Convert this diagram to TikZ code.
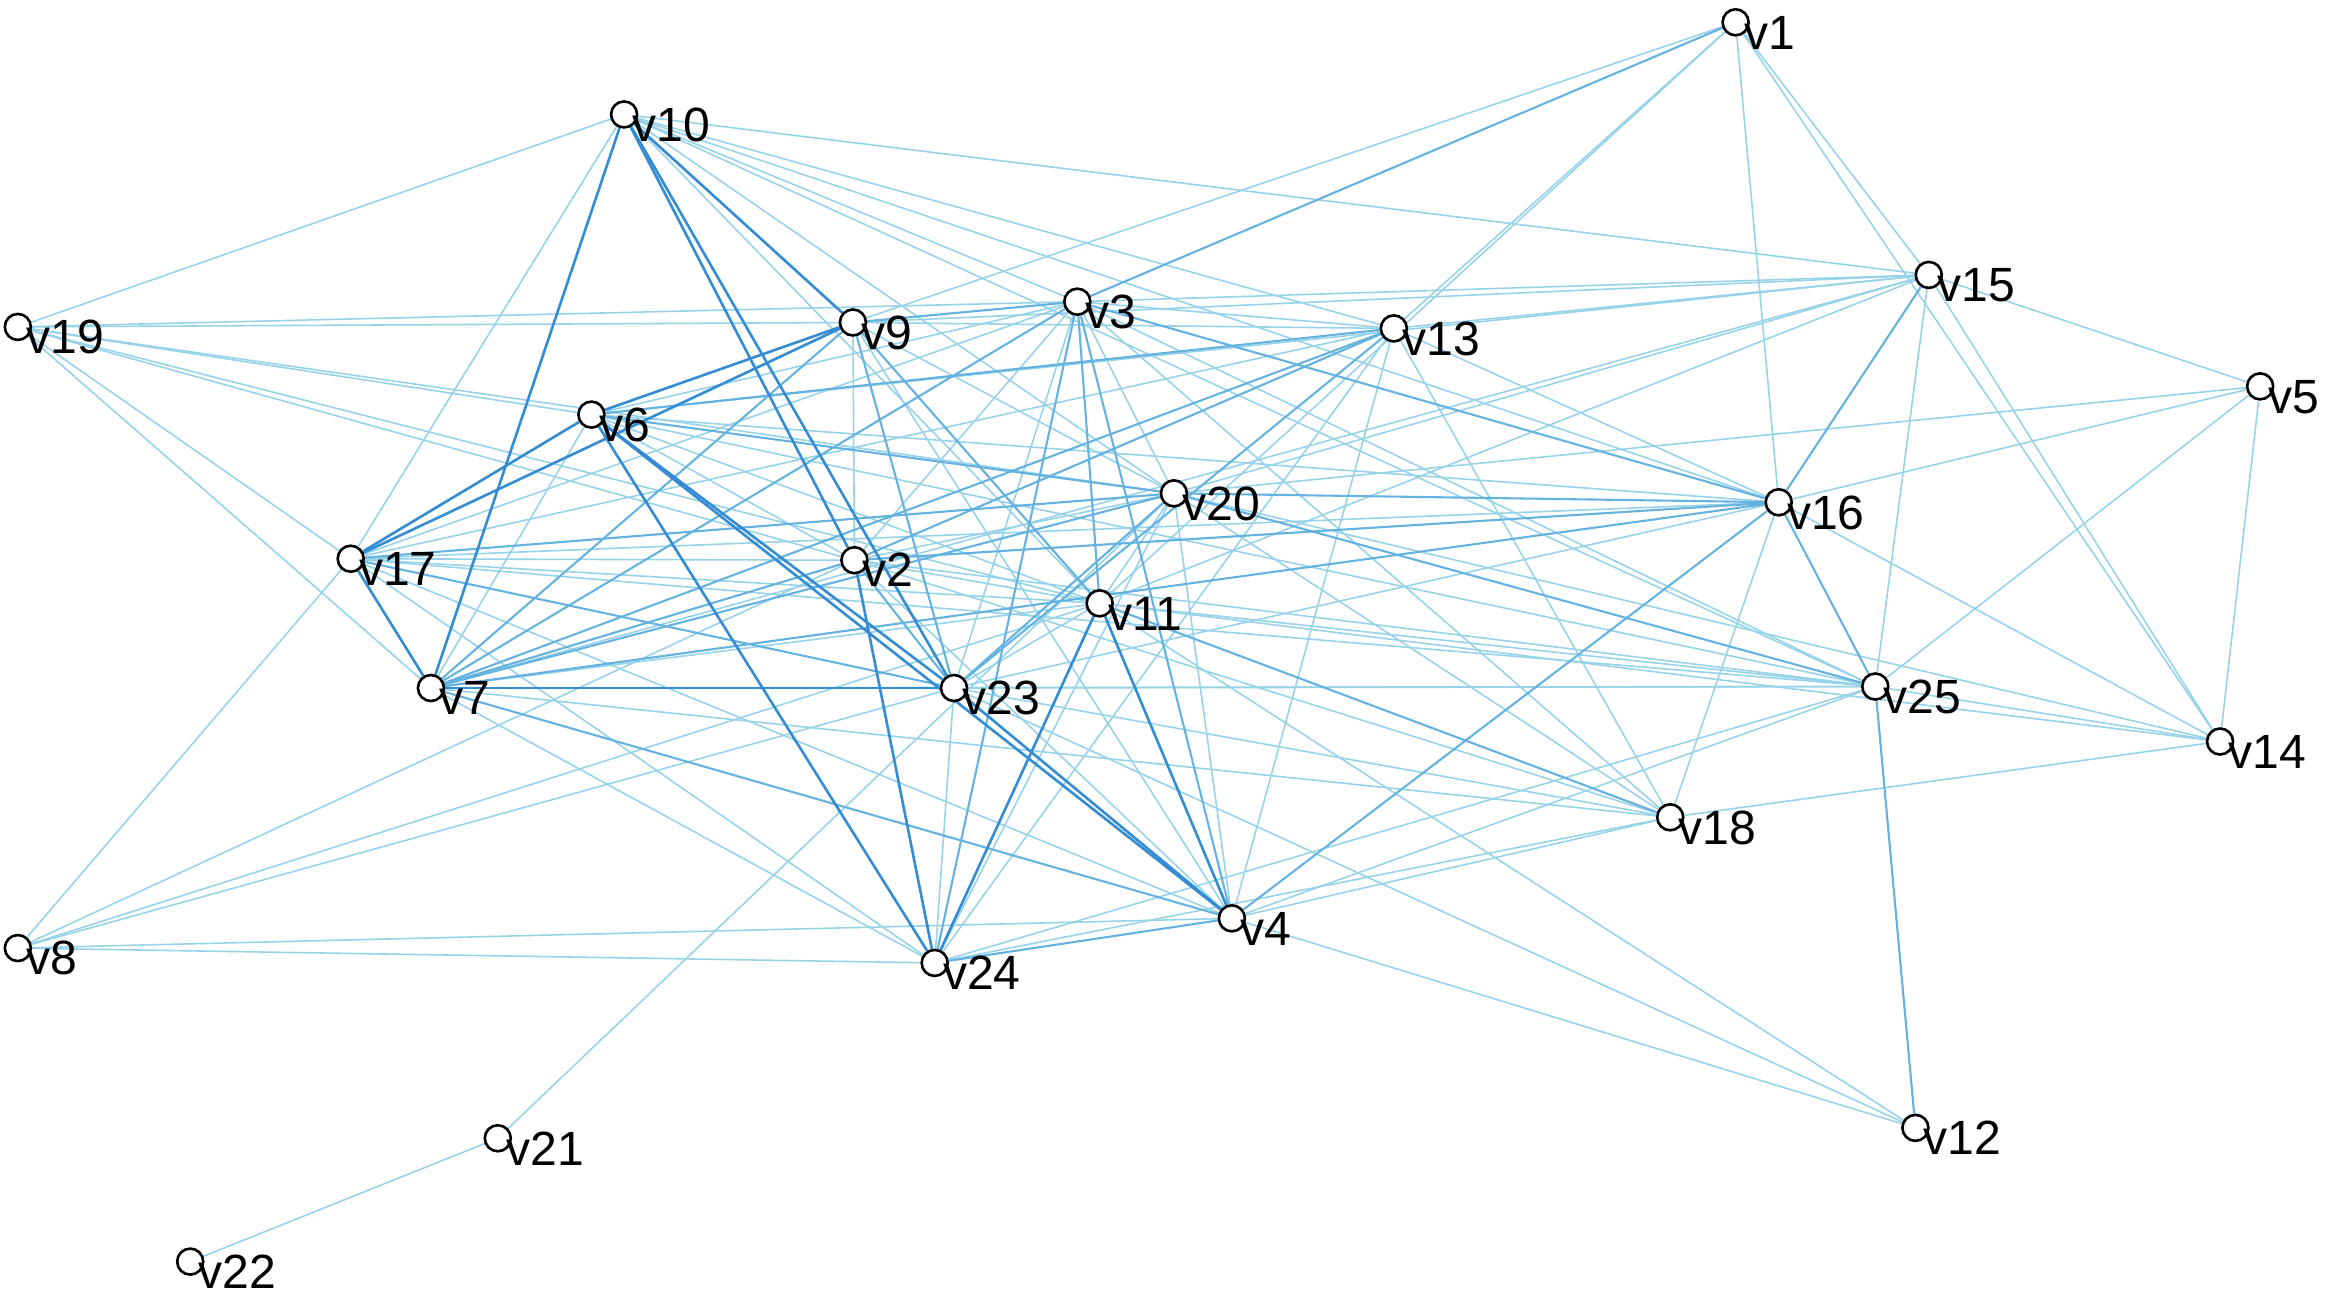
\documentclass[tikz,border=0pt]{standalone}
\usepackage{fontspec}
\setmainfont{Liberation Sans}
\definecolor{elt}{RGB}{150,210,232}
\definecolor{emd}{RGB}{100,178,224}
\definecolor{edk}{RGB}{52,140,210}
\pgfdeclarelayer{bg}
\pgfdeclarelayer{paper}
\pgfsetlayers{paper,bg,main}
\begin{document}
\begin{tikzpicture}[x=0.01cm,y=-0.01cm,
  vtx/.style={circle,draw=black,fill=white,line width=0.5pt,minimum size=0.175cm,inner sep=0pt},
  lbl/.style={anchor=base west,inner sep=0pt,text=black,font=\fontsize{9.2}{11}\selectfont},
  elt/.style={draw=elt,line width=0.3pt},
  emd/.style={draw=emd,line width=0.4pt},
  edk/.style={draw=edk,line width=0.5pt}]
\begin{pgfonlayer}{paper}
\fill[white] (0,0) rectangle (1568,869);
\end{pgfonlayer}
\useasboundingbox (0,0) rectangle (1568,869);
\foreach \n/\x/\y in {v1/1168/15,v2/575/377,v3/725/203,v4/829/618,v5/1521/260,v6/398/279,v7/290/463,v8/12/638,v9/574/217,v10/420/77,v11/740/406,v12/1289/759,v13/938/221,v14/1494/499,v15/1298/185,v16/1197/338,v17/236/376,v18/1124/550,v19/12/220,v20/790/332,v21/335/766,v22/128/849,v23/642/463,v24/629/648,v25/1262/462}{
  \node[vtx] (\n) at (\x,\y) {};
  \node[lbl] (\n-l) at (\x+5,\y+18) {\n};
}
\begin{pgfonlayer}{bg}
\foreach \a/\b in {v22/v21,v21/v20,
 v8/v17,v8/v2,v8/v11,v8/v23,v8/v24,v8/v4,
 v19/v10,v19/v9,v19/v3,v19/v6,v19/v17,v19/v7,v19/v2,v19/v11,v19/v20,
 v10/v17,v10/v15,v10/v13,v10/v16,v10/v3,v10/v20,v10/v25,v10/v11,
 v1/v9,v1/v13,v1/v11,v1/v16,v1/v15,v1/v14,
 v15/v3,v15/v9,v15/v13,v15/v20,v15/v7,v15/v11,v15/v25,v15/v14,v15/v5,v15/v6,
 v5/v16,v5/v25,v5/v14,v5/v20,
 v14/v16,v14/v18,v14/v25,v14/v20,v14/v11,
 v16/v17,v16/v18,v16/v6,v16/v23,v16/v13,
 v13/v3,v13/v9,v13/v24,v13/v18,v13/v4,v13/v17,
 v9/v2,v9/v20,v9/v4,
 v3/v6,v3/v17,v3/v2,v3/v23,v3/v20,v3/v25,v3/v18,
 v6/v7,v6/v2,v6/v11,v6/v25,
 v20/v2,v20/v11,v20/v24,v20/v4,v20/v18,
 v17/v2,v17/v11,v17/v25,v17/v4,v17/v24,
 v2/v11,v2/v4,v2/v25,v2/v18,
 v11/v7,v11/v23,v11/v25,
 v7/v24,v7/v25,v7/v18,
 v23/v24,v23/v25,v23/v18,
 v24/v25,v24/v18,
 v4/v25,v4/v18,v4/v12,
 v11/v12,v23/v12}
  \draw[elt] (\a) -- (\b);
\foreach \a/\b in {v1/v3,v16/v3,v16/v20,v16/v2,v16/v4,v16/v25,v13/v6,v13/v2,v13/v23,
 v9/v3,v9/v23,v9/v7,v3/v11,v3/v24,v3/v4,v20/v17,v20/v7,v20/v23,v20/v25,v17/v23,
 v2/v7,v2/v23,v11/v18,v24/v4,v25/v12,v7/v4,v9/v11,v15/v16,v7/v13,v3/v7,v16/v7,v6/v20}
  \draw[emd] (\a) -- (\b);
\foreach \a/\b in {v10/v7,v10/v9,v10/v2,v10/v23,v9/v6,v9/v17,v6/v17,v17/v7,v6/v23,
 v6/v24,v6/v4,v2/v24,v11/v24,v11/v4,v7/v23,v23/v4}
  \draw[edk] (\a) -- (\b);
\end{pgfonlayer}
\end{tikzpicture}
\end{document}
